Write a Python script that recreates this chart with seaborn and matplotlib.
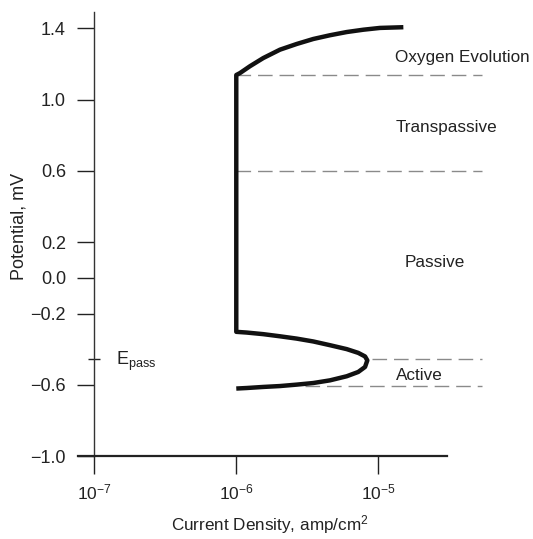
import numpy as np
import pandas as pd
import matplotlib
matplotlib.use("Agg")
import matplotlib.pyplot as plt
from matplotlib.ticker import FixedLocator, NullLocator, LogFormatterSciNotation
import seaborn as sns

# ---- data ----
# polarisation curve, traced from the active nose up to oxygen evolution
current_density = [1.000e-6, 1.183e-6, 1.549e-6, 2.032e-6, 2.667e-6, 3.491e-6,
                   4.581e-6, 6.012e-6, 7.244e-6, 8.091e-6, 8.395e-6,
                   8.091e-6, 7.244e-6, 6.012e-6, 4.581e-6, 3.491e-6, 2.667e-6,
                   2.032e-6, 1.549e-6, 1.183e-6, 1.000e-6,
                   1.000e-6,
                   1.062e-6, 1.247e-6, 1.549e-6, 2.032e-6, 2.667e-6, 3.491e-6,
                   4.581e-6, 6.012e-6, 7.870e-6, 1.030e-5, 1.507e-5]
potential = [-0.620, -0.617, -0.611, -0.606, -0.598, -0.589,
             -0.574, -0.551, -0.527, -0.499, -0.462,
             -0.440, -0.420, -0.399, -0.377, -0.356, -0.340,
             -0.327, -0.315, -0.306, -0.302,
             1.138,
             1.149, 1.187, 1.233, 1.280, 1.312, 1.340,
             1.361, 1.379, 1.392, 1.402, 1.406]

boundary_levels = [1.140, 0.601, -0.457, -0.604]
boundary_start = [1.0e-6, 1.0e-6, 9.0e-6, 3.05e-6]
boundary_end = 5.38e-5

region_labels = ["Oxygen Evolution", "Transpassive", "Passive", "Active"]
region_x = [3.91e-5, 3.06e-5, 2.52e-5, 1.94e-5]
region_baseline = [1.213, 0.820, 0.061, -0.574]

e_pass = -0.457
e_pass_label = r"E$_{\mathrm{pass}}$"
e_pass_label_pos = (1.41e-7, -0.489)
y_ticks = [1.4, 1.0, 0.6, 0.2, 0.0, -0.2, -0.6, -1.0]
y_ticklabels = ["1.4", "1.0", "0.6", "0.2", "0.0", "\u22120.2", "\u22120.6", "\u22121.0"]
x_ticks = [1e-7, 1e-6, 1e-5]

sns.set_theme(style="ticks")
plt.rcParams["font.family"] = ["Liberation Sans", "DejaVu Sans"]
plt.rcParams["mathtext.fontset"] = "custom"
plt.rcParams["mathtext.rm"] = "Liberation Sans"
plt.rcParams["mathtext.it"] = "Liberation Sans:italic"
plt.rcParams["mathtext.bf"] = "Liberation Sans:bold"

ink = "#222222"
fig = plt.figure(figsize=(5.33, 5.39), dpi=100)
ax = fig.add_axes([0.1469, 0.1534, 0.7724, 0.8249])

df = pd.DataFrame({"I": current_density, "E": potential})
sns.lineplot(data=df, x="I", y="E", sort=False, estimator=None, color="#111111",
             linewidth=3.2, ax=ax, solid_capstyle="butt", solid_joinstyle="round")

for lvl, x0 in zip(boundary_levels, boundary_start):
    ax.plot([x0, boundary_end], [lvl, lvl], color="#8a8a8a", linewidth=1.0,
            dashes=(10.5, 5), zorder=1)

for t, x, y in zip(region_labels, region_x, region_baseline):
    ax.text(x, y, t, ha="center", va="baseline", fontsize=12.3, color=ink)

ax.text(e_pass_label_pos[0], e_pass_label_pos[1], e_pass_label, ha="left",
        va="baseline", fontsize=13, color=ink)

ax.set_xscale("log")
ax.set_xlim(10 ** -7.114, 10 ** -4.211)
ax.set_ylim(-1.0, 1.493)

ax.xaxis.set_major_locator(FixedLocator(x_ticks))
ax.xaxis.set_major_formatter(LogFormatterSciNotation())
ax.xaxis.set_minor_locator(NullLocator())
ax.set_yticks(y_ticks)
ax.set_yticklabels(y_ticklabels)
ax.yaxis.set_minor_locator(FixedLocator([e_pass]))

ax.spines["top"].set_visible(False)
ax.spines["right"].set_visible(False)
ax.spines["left"].set_position(("data", 1e-7))
ax.spines["bottom"].set_bounds(10 ** -7.114, 3.05e-5)
ax.spines["left"].set_linewidth(1.0)
ax.spines["bottom"].set_linewidth(1.6)
ax.spines["left"].set_color("#333333")
ax.spines["bottom"].set_color("#222222")

ax.tick_params(axis="y", which="major", direction="out", length=12, width=1.0,
               pad=8.5, labelsize=13, colors=ink)
ax.tick_params(axis="y", which="minor", direction="inout", length=8.6, width=1.0,
               color=ink)
ax.tick_params(axis="x", which="major", direction="out", length=13, width=1.0,
               pad=6, labelsize=12.5, colors=ink)

ax.set_xlabel("Current Density, amp/cm$^2$", fontsize=12.3, color=ink, va="baseline")
ax.xaxis.set_label_coords(0.4656, -0.167)
ax.set_ylabel("Potential, mV", fontsize=13, color=ink, va="center")
ax.yaxis.set_label_coords(-0.145, 0.518)

fig.savefig("out.png", dpi=100)
